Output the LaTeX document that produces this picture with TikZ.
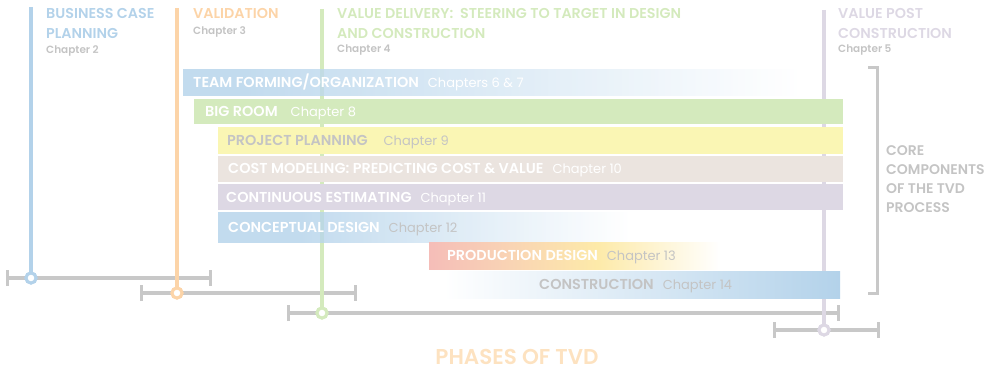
\documentclass[tikz,border=0pt]{standalone}
\usepackage{fontspec}
\setmainfont{Poppins}[BoldFont={Poppins SemiBold}]
\usetikzlibrary{arrows.meta,positioning}

\definecolor{tvdblue}{HTML}{B3D2EA}
\definecolor{tvdorange}{HTML}{FCD4A8}
\definecolor{tvdgreen}{HTML}{D4EABD}
\definecolor{tvdyellow}{HTML}{FAF6B4}
\definecolor{tvdbeige}{HTML}{EBE4DF}
\definecolor{tvdlav}{HTML}{DDD8E4}
\definecolor{tvdpink}{HTML}{F5BDB8}
\definecolor{tvdpeach}{HTML}{F9D4B4}
\definecolor{tvdsun}{HTML}{FDEAA9}
\definecolor{tvdgray}{HTML}{C8C8C8}
\definecolor{tvdtext}{HTML}{C4C4C4}
\definecolor{tvdtitle}{HTML}{FDE2C0}

% fades used by the bars that run out to white
\pgfdeclarehorizontalshading{teamfade}{100bp}{color(0bp)=(tvdblue); color(25bp)=(tvdblue); color(30bp)=(tvdblue); color(75bp)=(white); color(100bp)=(white)}
\pgfdeclarehorizontalshading{conceptfade}{100bp}{color(0bp)=(tvdblue); color(25bp)=(tvdblue); color(35bp)=(tvdblue); color(75bp)=(white); color(100bp)=(white)}
\pgfdeclarehorizontalshading{prodfade}{100bp}{color(0bp)=(tvdpink); color(25bp)=(tvdpink); color(39bp)=(tvdpeach); color(54bp)=(tvdsun); color(75bp)=(white); color(100bp)=(white)}

\newcommand{\chapfont}{\fontsize{13}{16}\selectfont}

\begin{document}
\begin{tikzpicture}[x=1pt,y=-1pt,
	phaseline/.style={line width=4pt},
	marker/.style={circle, draw=#1, fill=white, line width=3pt, minimum size=10pt, inner sep=0pt},
	span/.style={draw=tvdgray, line width=4pt, {Bar[width=16pt,line width=3pt]}-{Bar[width=16pt,line width=3pt]}},
	title/.style={font=\bfseries\fontsize{14.3}{19.5}\selectfont, align=left, inner sep=0pt, anchor=north west},
	chap/.style={font=\bfseries\fontsize{10.5}{12}\selectfont, text=tvdtext, inner sep=0pt, anchor=north west},
	barlbl/.style={font=\bfseries\fontsize{14.4}{16}\selectfont, inner sep=0pt, anchor=base west},
	]
	\useasboundingbox (0,0) rectangle (1003,374);

	% Phase spans
	\draw[span] (6,278) -- (212,278);
	\draw[span] (140,293) -- (357,293);
	\draw[span] (287,313) -- (840,313);
	\draw[span] (773,330) -- (880,330);

	% Phase markers
	\node[marker=tvdblue] (mbcp) at (31,278) {};
	\node[marker=tvdorange] (mval) at (177,293) {};
	\node[marker=tvdgreen] (mdel) at (322,313) {};
	\node[marker=tvdlav] (mpost) at (824,330) {};

	% Phase lines
	\coordinate (tbcp) at (31,7);
	\coordinate (tval) at (177,8);
	\coordinate (tdel) at (322,9);
	\coordinate (tpost) at (824,10);
	\draw[phaseline, tvdblue] (tbcp) -- (mbcp.north);
	\draw[phaseline, tvdorange] (tval) -- (mval.north);
	\draw[phaseline, tvdgreen] (tdel) -- (mdel.north);
	\draw[phaseline, tvdlav, line width=3.5pt] (tpost) -- (mpost.north);

	% Component bars
	\shade[shading=teamfade, fill opacity=.8] (183,70) rectangle (800,96);
	\fill[tvdgreen] (194,99) rectangle (843,124);
	\fill[tvdyellow] (218,127) rectangle (843,154);
	\fill[tvdbeige] (218,156) rectangle (843,182);
	\fill[tvdlav] (218,184) rectangle (843,210);
	\shade[shading=conceptfade, fill opacity=.8] (218,212) rectangle (630,242);
	\shade[shading=prodfade] (429,242) rectangle (720,269);
	\shade[left color=white, right color=tvdblue] (444,271) rectangle (840,298);

	% Redraw the markers on top
	\node[marker=tvdblue] at (mbcp) {};
	\node[marker=tvdorange] at (mval) {};
	\node[marker=tvdgreen] at (mdel) {};
	\node[marker=tvdlav] at (mpost) {};

	% Phase titles
	\node[title, text=tvdblue] (bcp) at (46,8.5) {BUSINESS CASE\\PLANNING};
	\node[chap] (bcpch) at (46,45) {Chapter 2};
	\node[title, text=tvdorange] (val) at (193,8.5) {VALIDATION};
	\node[chap] (valch) at (193,26) {Chapter 3};
	\node[title, text=tvdgreen] (del) at (337,8.5) {VALUE DELIVERY:\ \ STEERING TO TARGET IN DESIGN\\AND CONSTRUCTION};
	\node[chap] (delch) at (337,45) {Chapter 4};
	\node[title, text=tvdlav] (post) at (838,8.5) {VALUE POST\\CONSTRUCTION};
	\node[chap] (postch) at (838,45) {Chapter 5};

	% Bar labels
	\node[barlbl, text=white] (lteam) at (193,88) {TEAM FORMING/ORGANIZATION\hspace{9pt}{\mdseries\chapfont Chapters 6 \& 7}};
	\node[barlbl, text=white] (lroom) at (205,116.5) {BIG ROOM\hspace{13pt}{\mdseries\chapfont Chapter 8}};
	\node[barlbl, text=tvdtext] (lplan) at (227,145.5) {PROJECT PLANNING\hspace{16pt}{\mdseries\chapfont Chapter 9}};
	\node[barlbl, text=white] (lcost) at (228,174) {COST MODELING: PREDICTING COST \& VALUE\hspace{9pt}{\mdseries\chapfont Chapter 10}};
	\node[barlbl, text=white] (lest) at (226,202) {CONTINUOUS ESTIMATING\hspace{9pt}{\mdseries\chapfont Chapter 11}};
	\node[barlbl, text=white] (lcon) at (228,232) {CONCEPTUAL DESIGN\hspace{9pt}{\mdseries\chapfont\color{tvdtext}Chapter 12}};
	\node[barlbl, text=white] (lprod) at (447,260.5) {PRODUCTION DESIGN\hspace{9pt}{\mdseries\chapfont\color{tvdtext}Chapter 13}};
	\node[barlbl, text=tvdtext] (lbuild) at (539,289.5) {CONSTRUCTION\hspace{9pt}{\mdseries\chapfont Chapter 14}};

	% Core components bracket
	\draw[tvdgray, line width=3pt] (868,68) -- (877,68) -- (877,293) -- (868,293);
	\node[title, text=tvdtext, font=\bfseries\fontsize{14}{19}\selectfont] (core) at (886,145) {CORE\\COMPONENTS\\OF THE TVD\\PROCESS};

	% Footer
	\node[font=\bfseries\fontsize{21.5}{24}\selectfont, text=tvdtitle, inner sep=0pt] (phases) at (517,357) {PHASES OF TVD};

\end{tikzpicture}
\end{document}
